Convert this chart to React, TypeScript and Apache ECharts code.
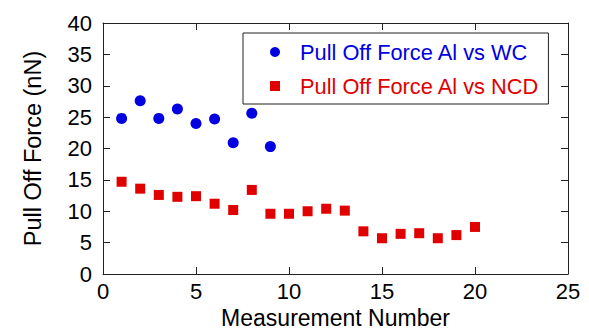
import React, { useEffect, useRef } from "react";
import * as echarts from "echarts";

const wcMeasurement = [1, 2, 3, 4, 5, 6, 7, 8, 9];
const wcForce = [24.8, 27.6, 24.8, 26.3, 24.0, 24.7, 20.9, 25.6, 20.3];

const ncdMeasurement = [1, 2, 3, 4, 5, 6, 7, 8, 9, 10, 11, 12, 13, 14, 15, 16, 17, 18, 19, 20];
const ncdForce = [14.7, 13.6, 12.6, 12.3, 12.4, 11.2, 10.2, 13.4, 9.6, 9.6, 10.0, 10.4, 10.1, 6.8, 5.7, 6.4, 6.5, 5.7, 6.2, 7.5];

const seriesNames = ["Pull Off Force Al vs WC", "Pull Off Force Al vs NCD"];
const xTitle = "Measurement Number";
const yTitle = "Pull Off Force (nN)";

const BLUE = "#0000e0";
const RED = "#e00000";
const FONT = "'Liberation Sans', Arial, sans-serif";

export default function App() {
  const ref = useRef<HTMLDivElement>(null);
  useEffect(() => {
    if (!ref.current) return;
    const chart = echarts.init(ref.current, null, { renderer: "svg" });
    const axisLineStyle = { color: "#222", width: 1 };
    const baseX = {
      type: "value",
      min: 0,
      max: 25,
      interval: 5,
      splitLine: { show: false },
      axisLine: { show: true, onZero: false, lineStyle: axisLineStyle },
      axisTick: { show: true, inside: true, length: 7, lineStyle: axisLineStyle },
    };
    const baseY = {
      type: "value",
      min: 0,
      max: 40,
      interval: 5,
      splitLine: { show: false },
      axisLine: { show: true, onZero: false, lineStyle: axisLineStyle },
      axisTick: { show: true, inside: true, length: 7, lineStyle: axisLineStyle },
    };
    chart.setOption({
      animation: false,
      backgroundColor: "#fff",
      textStyle: { fontFamily: FONT },
      grid: { left: 103, top: 23, right: 21, bottom: 56, containLabel: false, outerBoundsMode: "none" },
      xAxis: [
        {
          ...baseX,
          position: "bottom",
          axisLabel: { fontSize: 22, color: "#000", margin: 6, fontFamily: FONT },
          name: xTitle,
          nameLocation: "middle",
          nameGap: 30,
          nameTextStyle: { fontSize: 23, color: "#000", fontFamily: FONT },
        },
        { ...baseX, position: "top", axisLabel: { show: false } },
      ],
      yAxis: [
        {
          ...baseY,
          position: "left",
          axisLabel: { fontSize: 22, color: "#000", margin: 11, fontFamily: FONT },
          name: yTitle,
          nameLocation: "middle",
          nameGap: 58,
          nameTextStyle: { fontSize: 23.5, color: "#000", fontFamily: FONT },
        },
        { ...baseY, position: "right", axisLabel: { show: false } },
      ],
      legend: {
        orient: "vertical",
        left: 243,
        top: 33,
        padding: [8, 9, 7, 27],
        itemWidth: 40,
        itemHeight: 10,
        itemGap: 12,
        symbolKeepAspect: true,
        borderColor: "#222",
        borderWidth: 1,
        backgroundColor: "#fff",
        textStyle: { fontSize: 21.8, fontFamily: FONT },
        data: [
          { name: seriesNames[0], icon: "circle", textStyle: { color: BLUE } },
          { name: seriesNames[1], icon: "path://M0 0H10V10H0Z", textStyle: { color: RED } },
        ],
      },
      series: [
        {
          name: seriesNames[0],
          type: "scatter",
          symbol: "circle",
          symbolSize: 11,
          itemStyle: { color: BLUE, opacity: 1 },
          data: wcMeasurement.map((m, i) => [m, wcForce[i]]),
        },
        {
          name: seriesNames[1],
          type: "scatter",
          symbol: "rect",
          symbolSize: 10,
          itemStyle: { color: RED, opacity: 1 },
          data: ncdMeasurement.map((m, i) => [m, ncdForce[i]]),
        },
      ],
    });
    return () => chart.dispose();
  }, []);
  return (
    <div
      ref={ref}
      style={{ position: "fixed", left: 0, top: 0, width: 589, height: 330, background: "#fff" }}
    />
  );
}
